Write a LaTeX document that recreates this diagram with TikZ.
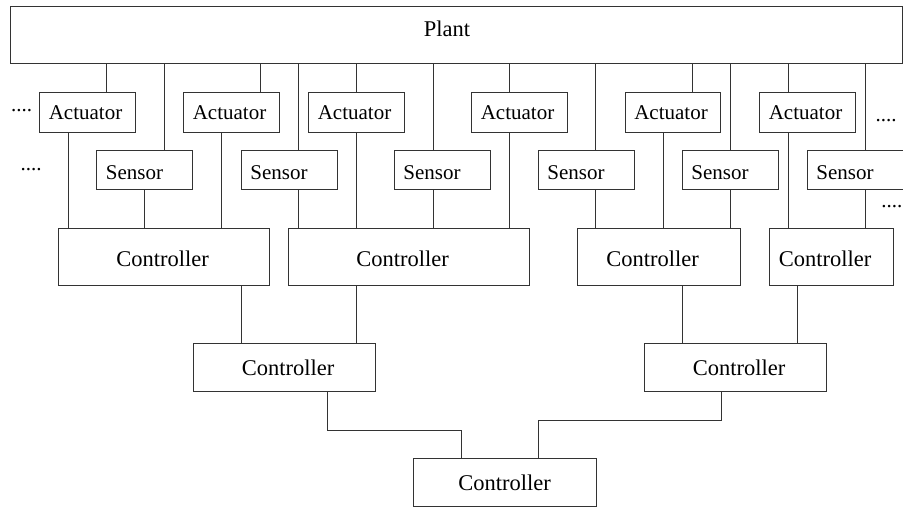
\documentclass[tikz,border=0pt]{standalone}
\usepackage{fontspec}
\setmainfont{Liberation Serif}
\begin{document}
\begin{tikzpicture}[x=1pt,y=-1pt,
  box/.style={draw=black!80, line width=1pt, inner sep=0pt, fill=white},
  lbl/.style={inner sep=0pt, font=\fontsize{21}{25}\selectfont},
  lblbig/.style={inner sep=0pt, font=\fontsize{22.5}{27}\selectfont},
  wire/.style={draw=black!80, line width=1pt},
  dotsstyle/.style={inner sep=0pt, font=\fontsize{21}{25}\selectfont}]
\useasboundingbox (0,0) rectangle (903,508);
\newcommand\mybox[9]{%
  \node[box, minimum width=#4pt, minimum height=#5pt] (#1) at (#2,#3) {};
  \node[#9] (#1t) at ([xshift=#7pt,yshift=#8pt]#1.center) {#6};}
% plant
\mybox{plant}{456}{35.5}{892}{57}{Plant}{-9}{6.5}{lblbig}
% actuators
\mybox{a1}{87}{113}{96}{40}{Actuator}{-1.5}{0}{lbl}
\mybox{a2}{231}{113}{96}{40}{Actuator}{-1.5}{0}{lbl}
\mybox{a3}{356}{113}{96}{40}{Actuator}{-1.5}{0}{lbl}
\mybox{a4}{519}{113}{96}{40}{Actuator}{-1.5}{0}{lbl}
\mybox{a5}{672.5}{113}{95}{40}{Actuator}{-1.5}{0}{lbl}
\mybox{a6}{807}{113}{96}{40}{Actuator}{-1.5}{0}{lbl}
% sensors
\mybox{s1}{144.5}{170.5}{96}{39}{Sensor}{-10}{-2}{lbl}
\mybox{s2}{289}{170.5}{96}{39}{Sensor}{-10}{-2}{lbl}
\mybox{s3}{442}{170.5}{96}{39}{Sensor}{-10}{-2}{lbl}
\mybox{s4}{586}{170.5}{96}{39}{Sensor}{-10}{-2}{lbl}
\mybox{s5}{730}{170.5}{96}{39}{Sensor}{-10}{-2}{lbl}
\mybox{s6}{855}{170.5}{96}{39}{Sensor}{-10}{-2}{lbl}
% controllers
\mybox{c1}{163.5}{256.5}{211}{57}{Controller}{-1}{-2}{lblbig}
\mybox{c2}{408.5}{256.5}{241}{57}{Controller}{-6}{-2}{lblbig}
\mybox{c3}{658.5}{256.5}{163}{57}{Controller}{-6}{-2}{lblbig}
\mybox{c4}{831}{256.5}{124}{57}{Controller}{-6}{-2}{lblbig}
\mybox{l2a}{284}{367}{182}{48}{Controller}{4}{-1}{lblbig}
\mybox{l2b}{735}{367}{182}{48}{Controller}{4}{-1}{lblbig}
\mybox{root}{504.5}{482}{183}{48}{Controller}{0}{-1}{lblbig}
% plant to actuators / sensors
\foreach \n/\x in {a1/106,s1/164,a2/260,s2/298,a3/356,s3/433,a4/509,s4/595.5,a5/692,s5/730,a6/788,s6/865}{
  \coordinate (t\n) at (\x,0);
  \draw[wire] (t\n |- plant.south) -- (t\n |- \n.north);
}
% actuators / sensors to controllers
\foreach \n/\c/\x in {a1/c1/68,s1/c1/144,a2/c1/221,s2/c2/298,a3/c2/356,s3/c2/433,a4/c2/509,s4/c3/595.5,a5/c3/663,s5/c3/730,a6/c4/788,s6/c4/865}{
  \coordinate (b\n) at (\x,0);
  \draw[wire] (b\n |- \n.south) -- (b\n |- \c.north);
}
% controllers to second level
\foreach \n/\c/\x in {c1/l2a/241,c2/l2a/356,c3/l2b/682,c4/l2b/797}{
  \coordinate (m\n) at (\x,0);
  \draw[wire] (m\n |- \n.south) -- (m\n |- \c.north);
}
% second level to root
\coordinate (ja1) at (327,430);
\coordinate (ja2) at (461,430);
\coordinate (jb1) at (721,420);
\coordinate (jb2) at (538,420);
\draw[wire] (ja1 |- l2a.south) -- (ja1) -- (ja2) -- (ja2 |- root.north);
\draw[wire] (jb1 |- l2b.south) -- (jb1) -- (jb2) -- (jb2 |- root.north);
% ellipsis marks
\node[dotsstyle] (d1) at (21.7,111) {....};
\node[dotsstyle] (d2) at (31,170) {....};
\node[dotsstyle] (d3) at (886,121) {....};
\node[dotsstyle, anchor=east] (d4) at (902.5,207) {....};
\end{tikzpicture}
\end{document}
